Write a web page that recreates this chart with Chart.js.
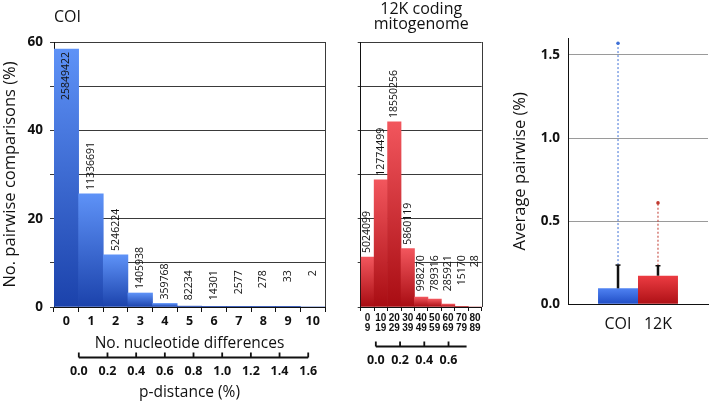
<!DOCTYPE html>
<html>
<head>
<meta charset="utf-8">
<script src="https://cdn.jsdelivr.net/npm/chart.js@4.4.1/dist/chart.umd.min.js"></script>
<style>
body { margin: 0; background: #fff; }
#wrap { position: relative; width: 709px; height: 402px; }
canvas { position: absolute; top: 0; }
</style>
</head>
<body>
<div id="wrap">
  <canvas id="coiChart" width="340" height="402" style="left:0px"></canvas>
  <canvas id="mitoChart" width="170" height="402" style="left:340px"></canvas>
  <canvas id="avgChart" width="199" height="402" style="left:510px"></canvas>
</div>
<script>
Chart.defaults.font.family = "'Open Sans', sans-serif";
Chart.defaults.color = '#111';
Chart.defaults.animation = false;

const narrow = "'Liberation Sans', Arial, sans-serif";

// COI histogram
const coiDiffs = ['0', '1', '2', '3', '4', '5', '6', '7', '8', '9', '10'];
const coiPct = [58.4, 25.6, 11.8, 3.17, 0.81, 0.19, 0.032, 0.006, 0.0006, 0.0001, 0];
const coiCounts = ['25849422', '11336691', '5246224', '1405938', '359768', '82234', '14301', '2577', '278', '33', '2'];
const coiPdistTicks = [0, 0.2, 0.4, 0.6, 0.8, 1.0, 1.2, 1.4, 1.6];

// 12K coding mitogenome histogram
const mitoBins = [['0', '9'], ['10', '19'], ['20', '29'], ['30', '39'], ['40', '49'], ['50', '59'], ['60', '69'], ['70', '79'], ['80', '89']];
const mitoPct = [11.3, 28.8, 41.9, 13.2, 2.25, 1.78, 0.65, 0.034, 0];
const mitoCounts = ['5024099', '12774499', '18550256', '5860119', '998270', '789316', '285921', '15170', '28'];
const mitoPdistTicks = [0, 0.2, 0.4, 0.6];

const pctTicks = [0, 10, 20, 30, 40, 50, 60];

// average pairwise distance
const avgGroups = ['COI', '12K'];
const avgMean = [0.096, 0.172];
const avgUpper = [0.236, 0.232];
const avgMax = [1.57, 0.61];
const avgTicks = [0, 0.5, 1.0, 1.5];

function barFill(top, bottom) {
    return function(c) {
        const chart = c.chart;
        if (!chart.chartArea || c.type !== 'data') return bottom;
        const y = chart.scales.y;
        const y0 = y.getPixelForValue(0);
        const y1 = y.getPixelForValue(c.raw);
        if (y0 - y1 < 2) return bottom;
        const g = chart.ctx.createLinearGradient(0, y1, 0, y0);
        g.addColorStop(0, top);
        g.addColorStop(1, bottom);
        return g;
    };
}

const histExtras = {
    id: 'histExtras',
    afterDatasetsDraw(chart, args, opts) {
        const {ctx, chartArea, scales} = chart;
        const meta = chart.getDatasetMeta(0);
        ctx.save();
        // counts above bars
        ctx.font = '10.5px "Open Sans"';
        ctx.fillStyle = '#111';
        ctx.textAlign = 'left';
        ctx.textBaseline = 'middle';
        const capY = scales.y.getPixelForValue(opts.labelCap);
        meta.data.forEach((bar, i) => {
            const txt = opts.counts[i];
            const w = ctx.measureText(txt).width;
            let top = Math.min(bar.y - 4 - w, capY);
            if (top < chartArea.top + 2) top = bar.y + 3;
            ctx.save();
            ctx.translate(bar.x, top + w);
            ctx.rotate(-Math.PI / 2);
            ctx.fillText(txt, 0, 0);
            ctx.restore();
        });
        // right frame
        ctx.strokeStyle = '#3a3a3a';
        ctx.lineWidth = 1;
        ctx.beginPath();
        ctx.moveTo(Math.round(chartArea.right) + 0.5, chartArea.top);
        ctx.lineTo(Math.round(chartArea.right) + 0.5, chartArea.bottom);
        ctx.stroke();
        // p-distance axis line with upward ticks
        const s = scales.x2;
        const ya = Math.round(s.top) + 0.5;
        ctx.strokeStyle = '#111';
        ctx.lineWidth = 1.8;
        ctx.beginPath();
        ctx.moveTo(s.getPixelForValue(opts.lineFrom), ya);
        ctx.lineTo(s.getPixelForValue(opts.lineTo), ya);
        opts.ticks.forEach(v => {
            const px = s.getPixelForValue(v);
            ctx.moveTo(px, ya);
            ctx.lineTo(px, ya - 5);
        });
        ctx.stroke();
        // panel title
        ctx.font = '16px "Open Sans"';
        ctx.textBaseline = 'alphabetic';
        ctx.textAlign = opts.titleAlign;
        const tx = opts.titleAlign === 'left' ? chartArea.left : (chartArea.left + chartArea.right) / 2;
        opts.title.forEach((line, i) => ctx.fillText(line, tx, opts.titleBase[i]));
        ctx.restore();
    }
};

new Chart(document.getElementById('coiChart'), {
    type: 'bar',
    data: {
        labels: coiDiffs,
        datasets: [{
            data: coiPct,
            backgroundColor: barFill('#5e92f7', '#1b42ab'),
            barPercentage: 1,
            categoryPercentage: 1,
            borderWidth: 0
        }]
    },
    options: {
        responsive: false,
        layout: { padding: { left: 0, top: 42, right: 15, bottom: 0 } },
        plugins: {
            legend: { display: false },
            tooltip: { enabled: false },
            histExtras: {
                counts: coiCounts, labelCap: 8.3, ticks: coiPdistTicks, lineFrom: 0, lineTo: 1.6,
                title: ['COI'], titleAlign: 'left', titleBase: [22]
            }
        },
        scales: {
            y: {
                min: 0, max: 60,
                afterBuildTicks: s => { s.ticks = pctTicks.map(v => ({value: v})); },
                afterFit: s => { s.width = 54; },
                ticks: { callback: v => (v % 20 === 0 ? v : ''), font: { size: 13.5, weight: 'bold' }, padding: 7 },
                grid: { color: '#3a3a3a', tickLength: 4 },
                border: { color: '#111' },
                title: { display: true, text: 'No. pairwise comparisons (%)', font: { size: 16.5 }, padding: { top: 0, bottom: 0 } }
            },
            x: {
                weight: 0,
                afterFit: s => { s.height = 50; },
                grid: { drawOnChartArea: false, tickLength: 5, color: '#111' },
                border: { color: '#111' },
                ticks: { font: { size: 12.5, weight: 'bold' }, padding: 2, maxRotation: 0, autoSkip: false },
                title: { display: true, text: 'No. nucleotide differences', font: { size: 15.5 }, padding: { top: 0, bottom: 4 } }
            },
            x2: {
                type: 'linear', position: 'bottom', weight: 1,
                min: -0.068, max: 1.612,
                afterBuildTicks: s => { s.ticks = coiPdistTicks.map(v => ({value: v})); },
                afterFit: s => { s.height = 45; },
                grid: { display: false, drawTicks: false },
                border: { display: false },
                ticks: { callback: v => v.toFixed(1), font: { size: 12.5, weight: 'bold' }, padding: 6.5, maxRotation: 0, autoSkip: false },
                title: { display: true, text: 'p-distance (%)', font: { size: 15.5, lineHeight: 1 }, padding: { top: 0, bottom: 1.5 } }
            }
        }
    },
    plugins: [histExtras]
});

new Chart(document.getElementById('mitoChart'), {
    type: 'bar',
    data: {
        labels: mitoBins,
        datasets: [{
            data: mitoPct,
            backgroundColor: barFill('#f2565d', '#a80c12'),
            barPercentage: 1,
            categoryPercentage: 1,
            borderWidth: 0
        }]
    },
    options: {
        responsive: false,
        layout: { padding: { left: 0, top: 42, right: 28.3, bottom: 0 } },
        plugins: {
            legend: { display: false },
            tooltip: { enabled: false },
            histExtras: {
                counts: mitoCounts, labelCap: 11.7, ticks: mitoPdistTicks, lineFrom: 0, lineTo: 0.749,
                title: ['12K coding', 'mitogenome'], titleAlign: 'center', titleBase: [14, 29]
            }
        },
        scales: {
            y: {
                min: 0, max: 60,
                afterBuildTicks: s => { s.ticks = pctTicks.map(v => ({value: v})); },
                afterFit: s => { s.width = 20.7; },
                ticks: { display: false },
                grid: { color: '#3a3a3a', tickLength: 3 },
                border: { color: '#111' }
            },
            x: {
                weight: 0,
                afterFit: s => { s.height = 38.7; },
                grid: { drawOnChartArea: false, tickLength: 4, color: '#111' },
                border: { color: '#111' },
                ticks: { font: { family: narrow, size: 10, weight: 'bold', lineHeight: 1 }, padding: 2, maxRotation: 0, autoSkip: false }
            },
            x2: {
                type: 'linear', position: 'bottom', weight: 1,
                min: 0, max: 0.749,
                afterBuildTicks: s => { s.ticks = mitoPdistTicks.map(v => ({value: v})); },
                afterFit: s => { s.height = 56.3; },
                grid: { display: false, drawTicks: false },
                border: { display: false },
                ticks: { callback: v => v.toFixed(1), font: { size: 12.5, weight: 'bold' }, padding: 7.5, maxRotation: 0, autoSkip: false }
            }
        }
    },
    plugins: [histExtras]
});

const avgColors = [['#4f82f2', '#1f4cc4'], ['#ec3c42', '#ad1015']];
const avgDash = ['#3d6fd6', '#c0392f'];

const avgExtras = {
    id: 'avgExtras',
    afterDatasetsDraw(chart) {
        const {ctx, scales} = chart;
        const y = scales.y;
        ctx.save();
        avgGroups.forEach((g, i) => {
            const bar = chart.getDatasetMeta(i).data[0];
            const yU = y.getPixelForValue(avgUpper[i]);
            const yM = y.getPixelForValue(avgMax[i]);
            // dashed range to max
            ctx.setLineDash([2, 2]);
            ctx.strokeStyle = avgDash[i];
            ctx.lineWidth = 1;
            ctx.beginPath();
            ctx.moveTo(bar.x, yU);
            ctx.lineTo(bar.x, yM);
            ctx.stroke();
            ctx.setLineDash([]);
            ctx.fillStyle = avgDash[i];
            ctx.beginPath();
            ctx.arc(bar.x, yM, 1.8, 0, Math.PI * 2);
            ctx.fill();
            // error bar
            ctx.strokeStyle = '#111';
            ctx.lineWidth = 2.5;
            ctx.beginPath();
            ctx.moveTo(bar.x, bar.y);
            ctx.lineTo(bar.x, yU);
            ctx.stroke();
            ctx.lineWidth = 1.5;
            ctx.beginPath();
            ctx.moveTo(bar.x - 2.5, yU);
            ctx.lineTo(bar.x + 2.5, yU);
            ctx.stroke();
            // group label
            ctx.fillStyle = '#111';
            ctx.font = '16px "Open Sans"';
            ctx.textAlign = 'center';
            ctx.textBaseline = 'middle';
            ctx.fillText(g, bar.x, 324);
        });
        ctx.restore();
    }
};

new Chart(document.getElementById('avgChart'), {
    type: 'bar',
    data: {
        labels: [''],
        datasets: avgGroups.map((g, i) => ({
            label: g,
            data: [avgMean[i]],
            backgroundColor: barFill(avgColors[i][0], avgColors[i][1]),
            categoryPercentage: 0.571,
            barPercentage: 1,
            borderWidth: 0
        }))
    },
    options: {
        responsive: false,
        layout: { padding: { left: 0, top: 38.3, right: 1, bottom: 0 } },
        plugins: { legend: { display: false }, tooltip: { enabled: false } },
        scales: {
            y: {
                min: 0, max: 1.6,
                afterBuildTicks: s => { s.ticks = avgTicks.map(v => ({value: v})); },
                afterFit: s => { s.width = 58; },
                ticks: { callback: v => v.toFixed(1), font: { size: 13.5, weight: 'bold' }, padding: 8 },
                grid: { color: '#9a9a9a', drawTicks: false },
                border: { color: '#111' },
                title: { display: true, text: 'Average pairwise (%)', font: { size: 16.5 }, padding: { top: 0, bottom: 0 } }
            },
            x: {
                afterFit: s => { s.height = 97.7; },
                ticks: { display: false },
                grid: { display: false },
                border: { color: '#111' }
            }
        }
    },
    plugins: [avgExtras]
});
</script>
</body>
</html>
